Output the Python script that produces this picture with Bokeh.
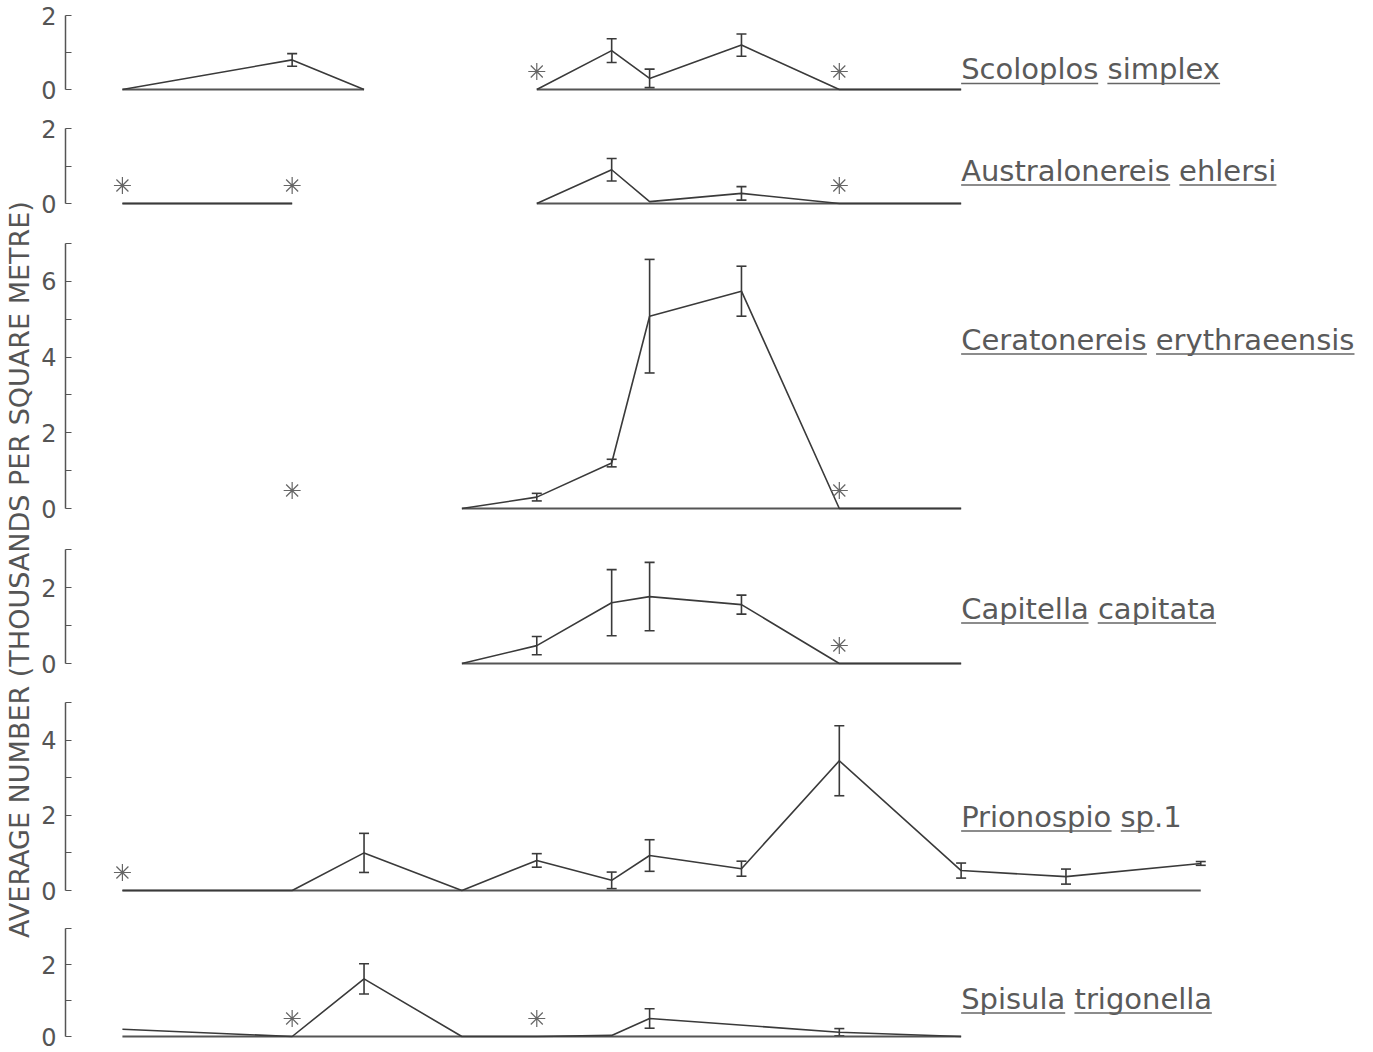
import math
from bokeh.plotting import figure
from bokeh.layouts import row, column
from bokeh.models import Range1d, FixedTicker, ColumnDataSource, Whisker, TeeHead
from bokeh.core.properties import value
from bokeh.embed import file_html
from bokeh.resources import INLINE

nan = float("nan")

# ---------------- data ----------------
# sampling stations along the transect (arbitrary distance units)
station_x = [120, 290, 362, 460, 535, 610, 648, 740, 838, 960, 1065, 1200]

species = ["Scoloplos simplex", "Australonereis ehlersi", "Ceratonereis erythraeensis",
           "Capitella capitata", "Prionospio sp.1", "Spisula trigonella"]
underlined_words = [["Scoloplos", "simplex"], ["Australonereis", "ehlersi"],
                    ["Ceratonereis", "erythraeensis"], ["Capitella", "capitata"],
                    ["Prionospio", "sp"], ["Spisula", "trigonella"]]
axis_top = [2, 2, 7, 3, 5, 3]

scol_idx = [0, 1, 2, 3, 4, 5, 6, 7, 8, 9]
scol_val = [0, 0.8, 0, nan, 0, 1.05, 0.3, 1.2, 0, 0]
scol_err = [0, 0.17, 0, 0, 0, 0.32, 0.25, 0.3, 0, 0]
scol_star = [4, 8]

aust_idx = [0, 1, 2, 4, 5, 6, 7, 8, 9]
aust_val = [0, 0, nan, 0, 0.9, 0.05, 0.27, 0, 0]
aust_err = [0, 0, 0, 0, 0.3, 0, 0.18, 0, 0]
aust_star = [0, 1, 8]

cera_idx = [1, 2, 3, 4, 5, 6, 7, 8, 9]
cera_val = [0, nan, 0, 0.3, 1.2, 5.08, 5.74, 0, 0]
cera_err = [0, 0, 0, 0.1, 0.1, 1.5, 0.66, 0, 0]
cera_star = [1, 8]

capi_idx = [3, 4, 5, 6, 7, 8, 9]
capi_val = [0, 0.47, 1.6, 1.76, 1.55, 0, 0]
capi_err = [0, 0.24, 0.87, 0.9, 0.25, 0, 0]
capi_star = [8]

prio_idx = [0, 1, 2, 3, 4, 5, 6, 7, 8, 9, 10, 11]
prio_val = [0, 0, 1.0, 0, 0.8, 0.27, 0.93, 0.58, 3.45, 0.53, 0.37, 0.72]
prio_err = [0, 0, 0.52, 0, 0.18, 0.22, 0.42, 0.2, 0.93, 0.2, 0.2, 0.05]
prio_star = [0]

spis_idx = [0, 1, 2, 3, 4, 5, 6, 8, 9]
spis_val = [0.2, 0, 1.6, 0, 0, 0.03, 0.5, 0.12, 0]
spis_err = [0, 0, 0.42, 0, 0, 0, 0.27, 0.1, 0]
spis_star = [1, 4]

y_title = "AVERAGE NUMBER (THOUSANDS PER SQUARE METRE)"

panels = [
    (scol_idx, scol_val, scol_err, scol_star),
    (aust_idx, aust_val, aust_err, aust_star),
    (cera_idx, cera_val, cera_err, cera_star),
    (capi_idx, capi_val, capi_err, capi_star),
    (prio_idx, prio_val, prio_err, prio_star),
    (spis_idx, spis_val, spis_err, spis_star),
]

# ---------------- layout / style ----------------
# page-pixel layout of each panel: top tick, zero line, and figure boundaries
panel_top_px = [15, 128, 243, 549, 702, 928]
panel_zero_px = [89, 203, 508, 663, 890, 1036]
bounds_px = [0, 109, 224, 528, 683, 908, 1052]
label_lift_px = [20.5, 33, 169, 55, 74, 38]     # label centre above zero line
UNDER_PX = 14.5
STAR_PX = 18
LABEL_X = 960
LABEL_FS = 29
INK = "#3a3a3a"
TITLE_W = 38
FIG_W = 1370 - TITLE_W
X0, X1 = 63, 1370

# DejaVu Sans advance widths (em) for underline lengths
cw = {" ": 0.318, ".": 0.318, "1": 0.636, "A": 0.684, "C": 0.698, "P": 0.603, "S": 0.635,
      "a": 0.613, "c": 0.550, "e": 0.615, "g": 0.635, "h": 0.634, "i": 0.278, "l": 0.278,
      "m": 0.974, "n": 0.634, "o": 0.612, "p": 0.635, "r": 0.411, "s": 0.521, "t": 0.392,
      "u": 0.634, "x": 0.592, "y": 0.592}


def tw(t):
    return sum(cw.get(c, 0.6) for c in t) * LABEL_FS


figs = []
total_h = bounds_px[-1] - bounds_px[0]
for k, (idx, vals, errs, stars) in enumerate(panels):
    top = axis_top[k]
    s = (panel_zero_px[k] - panel_top_px[k]) / top
    h = bounds_px[k + 1] - bounds_px[k]
    y0 = -(bounds_px[k + 1] - panel_zero_px[k]) / s
    y1 = top + (panel_top_px[k] - bounds_px[k]) / s
    p = figure(width=FIG_W, height=h, x_range=Range1d(X0, X1), y_range=Range1d(y0, y1),
               toolbar_location=None, output_backend="svg", x_axis_location=None,
               min_border_left=25, min_border_right=0, min_border_top=0, min_border_bottom=0,
               outline_line_color=None, background_fill_color="white")
    p.grid.visible = False
    ax = p.yaxis[0]
    ax.ticker = FixedTicker(ticks=list(range(0, top + 1)))
    ax.bounds = (0, top)
    ax.major_label_overrides = {i: ("" if i % 2 else str(i)) for i in range(0, top + 1)}
    ax.minor_tick_line_color = None
    ax.major_tick_in = 6
    ax.major_tick_out = 0
    ax.axis_line_color = "#555555"
    ax.axis_line_width = 1.5
    ax.major_tick_line_color = "#555555"
    ax.major_tick_line_width = 1.2
    ax.major_label_standoff = 9
    ax.major_label_text_font = "DejaVu Sans"
    ax.major_label_text_font_size = "24px"
    ax.major_label_text_color = "#555555"

    xs = [station_x[i] for i in idx]
    # baselines for each sampled stretch
    groups, cur = [], []
    for x, v in zip(xs, vals):
        if math.isnan(v):
            if cur:
                groups.append(cur)
            cur = []
        else:
            cur.append(x)
    if cur:
        groups.append(cur)
    bx0 = [g[0] for g in groups if len(g) > 1]
    bx1 = [g[-1] for g in groups if len(g) > 1]
    p.segment(x0=bx0, x1=bx1, y0=[0] * len(bx0), y1=[0] * len(bx0),
              line_color="#555555", line_width=2)

    p.line(xs, vals, line_color=INK, line_width=1.6)

    ex = [x for x, e in zip(xs, errs) if e > 0]
    ev = [v for v, e in zip(vals, errs) if e > 0]
    ee = [e for e in errs if e > 0]
    if ex:
        src = ColumnDataSource(dict(x=ex, upper=[v + e for v, e in zip(ev, ee)],
                                    lower=[v - e for v, e in zip(ev, ee)]))
        wk = Whisker(source=src, base="x", upper="upper", lower="lower", dimension="height",
                     line_color=INK, line_width=1.6,
                     upper_head=TeeHead(size=10, line_color=INK, line_width=1.6),
                     lower_head=TeeHead(size=10, line_color=INK, line_width=1.6))
        p.add_layout(wk)

    sx = [station_x[i] for i in stars]
    p.scatter(sx, [STAR_PX / s] * len(sx), marker="asterisk", size=17,
              line_color="#666666", line_width=1.2)

    ly = label_lift_px[k] / s
    p.text(x=[LABEL_X], y=[ly], text=[species[k]], text_align="left",
           text_baseline="middle", text_font=value("DejaVu Sans"),
           text_font_size=f"{LABEL_FS}px", text_color="#5a5a5a")
    # underline each word
    words = species[k].split(" ")
    pos = LABEL_X
    u0, u1 = [], []
    for w in words:
        wl = tw(w)
        for uw in underlined_words[k]:
            if w.startswith(uw):
                u0.append(pos)
                u1.append(pos + tw(uw))
        pos += wl + tw(" ")
    uy = ly - UNDER_PX / s
    p.segment(x0=u0, x1=u1, y0=[uy] * len(u0), y1=[uy] * len(u0),
              line_color="#666666", line_width=1.5)
    figs.append(p)

tfig = figure(width=TITLE_W, height=total_h, x_range=Range1d(0, TITLE_W),
              y_range=Range1d(0, total_h), toolbar_location=None, output_backend="svg",
              x_axis_location=None, y_axis_location=None, min_border=0,
              outline_line_color=None)
tfig.grid.visible = False
tfig.text(x=[19], y=[total_h - 569], text=[y_title], angle=math.pi / 2,
          text_align="center", text_baseline="middle", text_font=value("DejaVu Sans"),
          text_font_size="27px", text_color="#555555")

layout = row(tfig, column(*figs, spacing=0), spacing=0)
open("out.html", "w").write(file_html(layout, INLINE))
